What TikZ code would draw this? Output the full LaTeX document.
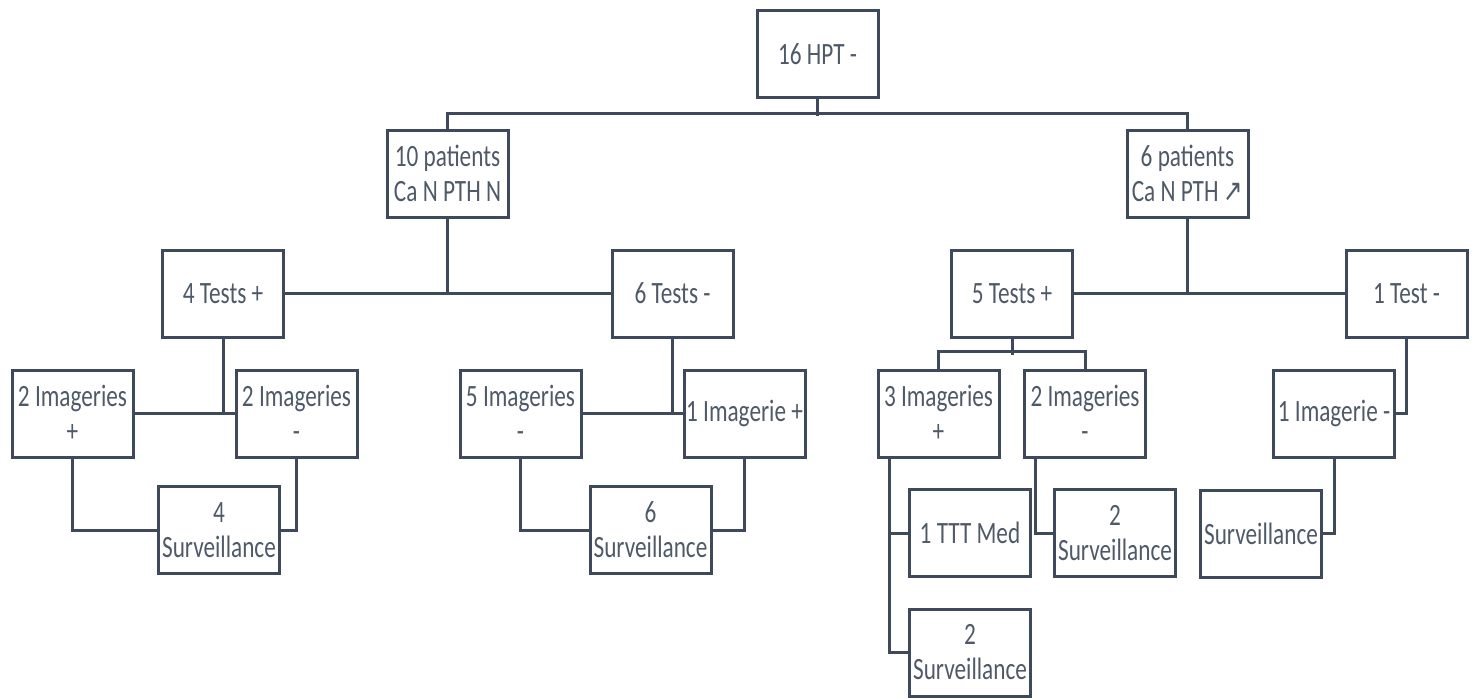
\documentclass[tikz,border=0pt]{standalone}
\usepackage{fontspec}
\setmainfont[FakeStretch=0.75]{Carlito}
\newfontfamily\arrowfont[FakeStretch=0.75]{DejaVu Sans}
\usepackage{xcolor}
\usepackage{tikz}
\definecolor{boxline}{HTML}{3E4A5B}
\definecolor{boxtext}{HTML}{4F5A69}

\begin{document}
\begin{tikzpicture}[x=0.5pt, y=-0.5pt,
    box/.style={draw=boxline, line width=1.5pt, fill=white, minimum width=60.5pt,
        minimum height=43.5pt, inner sep=1pt, align=center, text=boxtext,
        font=\fontsize{15.5}{17.5}\selectfont},
    link/.style={draw=boxline, line width=1.5pt}]
    \useasboundingbox (0,0) rectangle (1476,697);

    % Root
    \node[box] (root) at (817.5,54) {16 HPT -};

    % Patient groups
    \node[box] (pnorm) at (447.5,173.5) {10 patients\\Ca N PTH N};
    \node[box] (phigh) at (1187.5,173.5) {6 patients\\Ca N PTH {\arrowfont ↗}};

    % Tests
    \node[box] (tfour) at (223,293.5) {4 Tests +};
    \node[box] (tsix) at (672.5,293.5) {6 Tests -};
    \node[box] (tfive) at (1012,293.5) {5 Tests +};
    \node[box] (tone) at (1406.5,293.5) {1 Test -};

    % Imagery
    \node[box] (imA) at (72.5,413.5) {2 Imageries\\+};
    \node[box] (imB) at (296.5,413.5) {2 Imageries\\-};
    \node[box] (imC) at (520.5,413.5) {5 Imageries\\-};
    \node[box] (imD) at (744.5,413.5) {1 Imagerie +};
    \node[box] (imE) at (938.5,413.5) {3 Imageries\\+};
    \node[box] (imF) at (1085,413.5) {2 Imageries\\-};
    \node[box] (imG) at (1334,413.5) {1 Imagerie -};

    % Outcomes
    \node[box] (survA) at (219,530) {4\\Surveillance};
    \node[box] (survB) at (650.5,530) {6\\Surveillance};
    \node[box] (med) at (970,533) {1 TTT Med};
    \node[box] (survC) at (1115,533) {2\\Surveillance};
    \node[box] (survD) at (970,652.5) {2\\Surveillance};
    \node[box] (survE) at (1261,533.5) {Surveillance};

    % Links root -> groups
    \draw[link] (root.south) -- ++(0,17);
    \draw[link] (pnorm.north) -- ++(0,-15) -| (phigh.north);

    % Links groups -> tests
    \draw[link] (tfour.east) -- (tsix.west);
    \draw[link] (pnorm.south) -- (pnorm.south |- tfour.east);
    \draw[link] (tfive.east) -- (tone.west);
    \draw[link] (phigh.south) -- (phigh.south |- tfive.east);

    % Links tests -> imagery
    \draw[link] (imA.east) -- (imB.west);
    \draw[link] (tfour.south) -- (tfour.south |- imA.east);
    \draw[link] (imC.east) -- (imD.west);
    \draw[link] (tsix.south) -- (tsix.south |- imC.east);
    \draw[link] (tfive.south) -- ++(0,16);
    \draw[link] (imE.north) -- ++(0,-17) -| (imF.north);
    \draw[link] (tone.south) |- (imG.east);

    % Links imagery -> outcomes
    \draw[link] (imA.south) |- (survA.west);
    \draw[link] (imB.south) |- (survA.east);
    \draw[link] (imC.south) |- (survB.west);
    \draw[link] (imD.south) |- (survB.east);
    \coordinate (footE) at ([xshift=6.5pt]imE.south west);
    \draw[link] (footE) |- (survD.west);
    \draw[link] (med.west) -- (med.west -| footE);
    \draw[link] ([xshift=6pt]imF.south west) |- (survC.west);
    \draw[link] (imG.south) |- (survE.east);
\end{tikzpicture}
\end{document}
